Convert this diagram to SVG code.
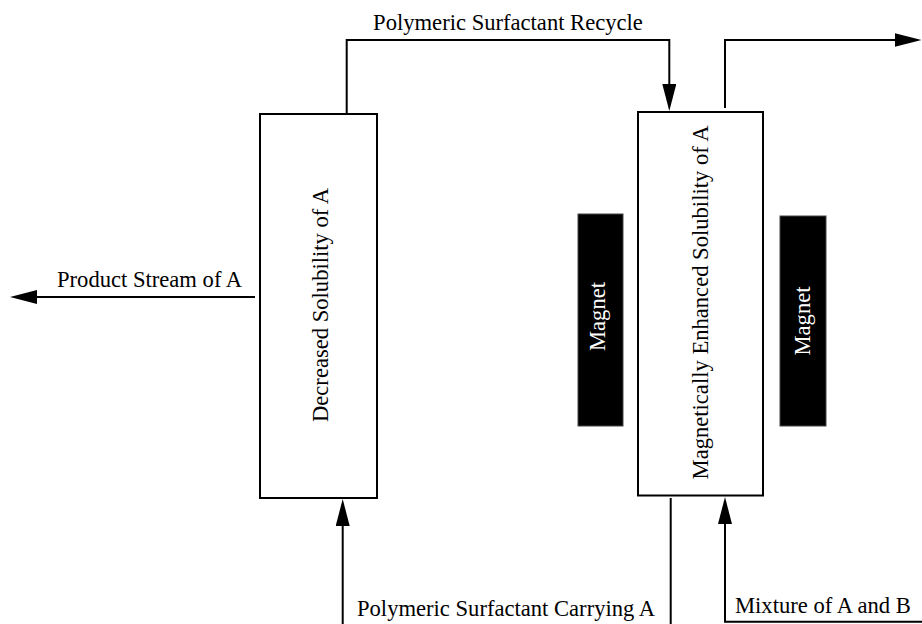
<svg xmlns="http://www.w3.org/2000/svg" width="922" height="624" viewBox="0 0 922 624">
<style>
  text { font-family: "Liberation Serif", "Times New Roman", serif; font-size: 22.6px; fill: #000; }
  .box { fill: #fff; stroke: #000; stroke-width: 2; }
  .magnet { fill: #000; stroke: #444; stroke-width: 1; }
  .mtext { fill: #fff; }
  .conn { fill: none; stroke: #000; stroke-width: 2; }
  .arrow { marker-end: url(#ah); }
</style>
<defs>
  <marker id="ah" markerUnits="userSpaceOnUse" viewBox="0 0 27 14" refX="17" refY="7" markerWidth="27" markerHeight="14" orient="auto">
    <path d="M0,0 L27,7 L0,14 z" fill="#000"/>
  </marker>
</defs>
<rect width="922" height="624" fill="#fff"/>

<g id="decreased-solubility">
  <rect class="box" x="260" y="114" width="117" height="384"/>
  <text transform="translate(328,305) rotate(-90)" text-anchor="middle">Decreased Solubility of A</text>
</g>

<g id="enhanced-solubility">
  <rect class="box" x="638" y="112" width="125" height="383.5"/>
  <text transform="translate(708,302.5) rotate(-90)" text-anchor="middle">Magnetically Enhanced Solubility of A</text>
</g>

<g id="magnet-left">
  <rect class="magnet" x="578" y="214" width="45" height="212"/>
  <text class="mtext" transform="translate(605,316.5) rotate(-90)" text-anchor="middle">Magnet</text>
</g>

<g id="magnet-right">
  <rect class="magnet" x="780" y="216" width="46" height="210"/>
  <text class="mtext" transform="translate(810,321) rotate(-90)" text-anchor="middle">Magnet</text>
</g>

<g id="connectors">
  <path class="conn arrow" d="M346.7,113 V40 H669.3 V101"/>
  <path class="conn arrow" d="M725,108 V40 H911.5"/>
  <path class="conn arrow" d="M255,297 H20"/>
  <path class="conn arrow" d="M342.7,624 V509"/>
  <path class="conn" d="M670.7,498 V624"/>
  <path class="conn arrow" d="M922,621.7 H725 V507"/>
</g>

<g id="labels">
  <text x="508" y="30" text-anchor="middle">Polymeric Surfactant Recycle</text>
  <text x="57" y="287">Product Stream of A</text>
  <text x="357" y="616">Polymeric Surfactant Carrying A</text>
  <text x="735" y="613">Mixture of A and B</text>
</g>
</svg>
